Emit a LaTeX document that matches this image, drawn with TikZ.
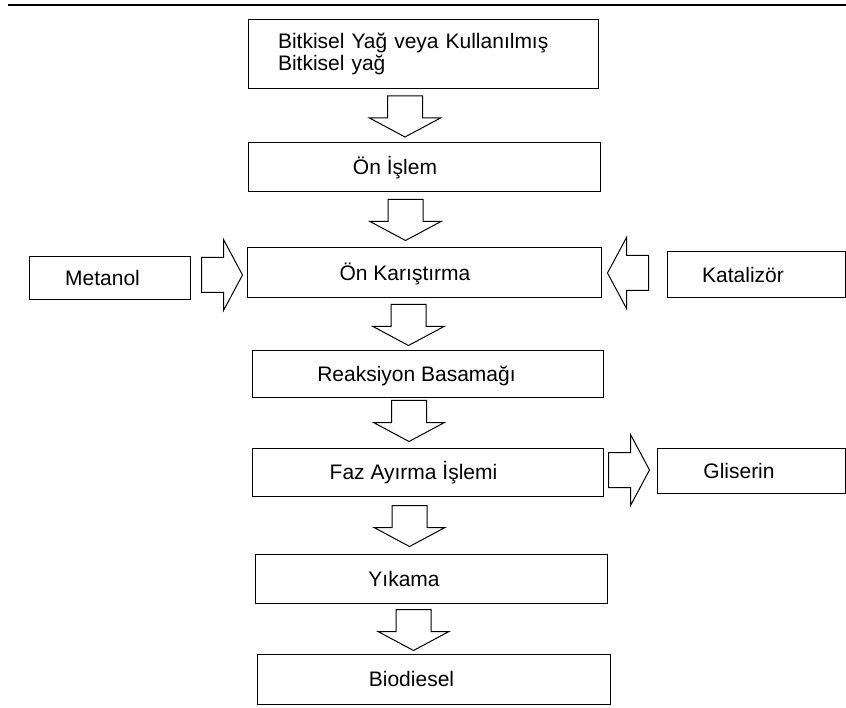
\documentclass[tikz,border=0pt]{standalone}
\usepackage{fontspec}
\setmainfont{Liberation Sans}
\usepackage{tikz}
\usetikzlibrary{calc}

\tikzset{blockarrow/.pic = {\draw (-17.5,0) -- (17.5,0) -- (17.5,22) -- (35.5,22) -- (0,41) -- (-35.5,22) -- (-17.5,22) -- cycle;}}

\begin{document}
\begin{tikzpicture}[x=1pt, y=-1pt, line width=1pt, font=\fontsize{21}{22}\selectfont,
        stage/.style = {draw, minimum width=352, minimum height=49, inner sep=0},
        side/.style = {draw, minimum height=45, inner sep=0},
        every label/.style = {text height=15, text depth=0, inner sep=0}]
                \useasboundingbox (0,0) rectangle (846,708);
                \draw[line width=2pt] (8,5) -- (846,5);

                \node[stage, minimum width=350, minimum height=69, text width=290, align=left] at (423,54) (feed) {Bitkisel Yağ veya Kullanılmış\\Bitkisel yağ};
                \node[stage, label={[xshift=-29]center:Ön İşlem}] at (424,167.5) (pre) {};
                \node[stage, minimum width=354, minimum height=50, label={[xshift=-19]center:Ön Karıştırma}] at (424,273) (mix) {};
                \node[stage, minimum width=351, minimum height=47, label={[xshift=-11]center:Reaksiyon Basamağı}] at (427.5,374.5) (react) {};
                \node[stage, minimum width=351, minimum height=48, label={[xshift=-14]center:Faz Ayırma İşlemi}] at (427.5,472) (phase) {};
                \node[stage, label={[xshift=-27]center:Yıkama}] at (431,578.5) (wash) {};
                \node[stage, minimum width=353, minimum height=50, label={[xshift=-22]center:Biodiesel}] at (433.5,679) (bio) {};

                \node[side, minimum width=161, minimum height=43, label={[xshift=-7]center:Metanol}] at (109.5,278.5) (meth) {};
                \node[side, minimum width=178, minimum height=46, label={[xshift=-13]center:Katalizör}] at (756,275) (cat) {};
                \node[side, minimum width=188, label={[xshift=-12]center:Gliserin}] at (751,470.5) (glyc) {};

                \pic at ($(feed.south)+(-18,7)$) {blockarrow};
                \pic at ($(pre.south)+(-18.5,7)$) {blockarrow};
                \pic at ($(mix.south)+(-15.5,6)$) {blockarrow};
                \pic at ($(react.south)+(-18.5,2)$) {blockarrow};
                \pic at ($(phase.south)+(-18,9)$) {blockarrow};
                \pic at ($(wash.south)+(-17.5,6)$) {blockarrow};

                \pic[rotate=90] at ($(meth.east)+(11,-3.5)$) {blockarrow};
                \pic[rotate=-90] at ($(cat.west)+(-18,-2)$) {blockarrow};
                \pic[rotate=90] at ($(phase.east)+(5,-2)$) {blockarrow};
            \end{tikzpicture}
\end{document}
